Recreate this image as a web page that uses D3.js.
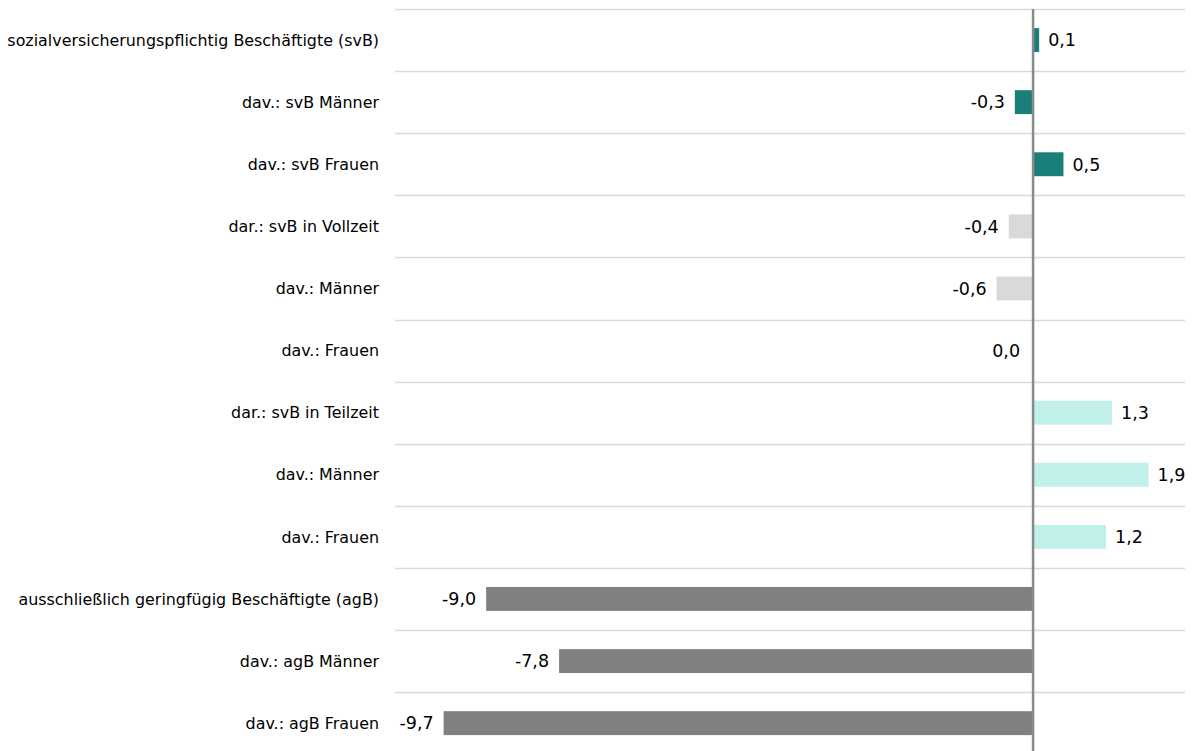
<!DOCTYPE html>
<html>
<head>
<meta charset="utf-8">
<script src="https://cdn.jsdelivr.net/npm/d3@7"></script>
<style>
  html, body { margin: 0; padding: 0; background: #fff; }
  svg text { font-family: "DejaVu Sans", Verdana, sans-serif; fill: #000; }
</style>
</head>
<body>
<svg id="chart" width="1195" height="751"></svg>
<script>
// Change in employment, percent
const categories = [
  "sozialversicherungspflichtig Beschäftigte (svB)",
  "dav.: svB Männer",
  "dav.: svB Frauen",
  "dar.: svB in Vollzeit",
  "dav.: Männer",
  "dav.: Frauen",
  "dar.: svB in Teilzeit",
  "dav.: Männer",
  "dav.: Frauen",
  "ausschließlich geringfügig Beschäftigte (agB)",
  "dav.: agB Männer",
  "dav.: agB Frauen"
];
const values = [0.1, -0.3, 0.5, -0.4, -0.6, 0.0, 1.3, 1.9, 1.2, -9.0, -7.8, -9.7];
const groups = ["svB", "svB", "svB", "vz", "vz", "vz", "tz", "tz", "tz", "agB", "agB", "agB"];
const groupColors = { svB: "#1b7f79", vz: "#d9d9d9", tz: "#c1efea", agB: "#808080" };

const svg = d3.select("#chart");
const W = 1195, H = 751;
const plotTop = 9, rowH = 62.1;

const x = d3.scaleLinear().domain([-10.5, 2.5]).range([395, 1185]);
const y = d3.scaleBand()
  .domain(d3.range(categories.length))
  .range([plotTop, plotTop + rowH * categories.length])
  .paddingInner(0.615).paddingOuter(0.3075);

const fmt = v => d3.format(".1f")(v).replace(".", ",").replace("−", "-");

// horizontal separators between rows
const seps = d3.range(categories.length + 1).map(i => plotTop + i * rowH);
svg.append("g").selectAll("line").data(seps).join("line")
  .attr("x1", x.range()[0]).attr("x2", x.range()[1])
  .attr("y1", d => Math.round(d) + 0.5).attr("y2", d => Math.round(d) + 0.5)
  .attr("stroke", "#d9d9d9").attr("stroke-width", 1.5);

// bars
svg.append("g").selectAll("rect").data(values).join("rect")
  .attr("x", d => Math.min(x(0), x(d)))
  .attr("width", d => Math.abs(x(d) - x(0)))
  .attr("y", (d, i) => y(i))
  .attr("height", y.bandwidth())
  .attr("fill", (d, i) => groupColors[groups[i]]);

// zero axis line
svg.append("line")
  .attr("x1", x(0)).attr("x2", x(0))
  .attr("y1", plotTop).attr("y2", H)
  .attr("stroke", "#8a8a8a").attr("stroke-width", 2.5);

// value labels
svg.append("g").selectAll("text").data(values).join("text")
  .attr("x", d => d > 0 ? x(d) + 9 : x(Math.min(d, 0)) - 10 - (d === 0 ? 3 : 0))
  .attr("y", (d, i) => y(i) + y.bandwidth() / 2)
  .attr("dy", "0.36em")
  .attr("text-anchor", d => d > 0 ? "start" : "end")
  .attr("font-size", 17.5)
  .text(d => fmt(d));

// category labels
svg.append("g").selectAll("text").data(categories).join("text")
  .attr("x", 379)
  .attr("y", (d, i) => y(i) + y.bandwidth() / 2)
  .attr("dy", "0.36em")
  .attr("text-anchor", "end")
  .attr("font-size", 15.9)
  .text(d => d);
</script>
</body>
</html>
